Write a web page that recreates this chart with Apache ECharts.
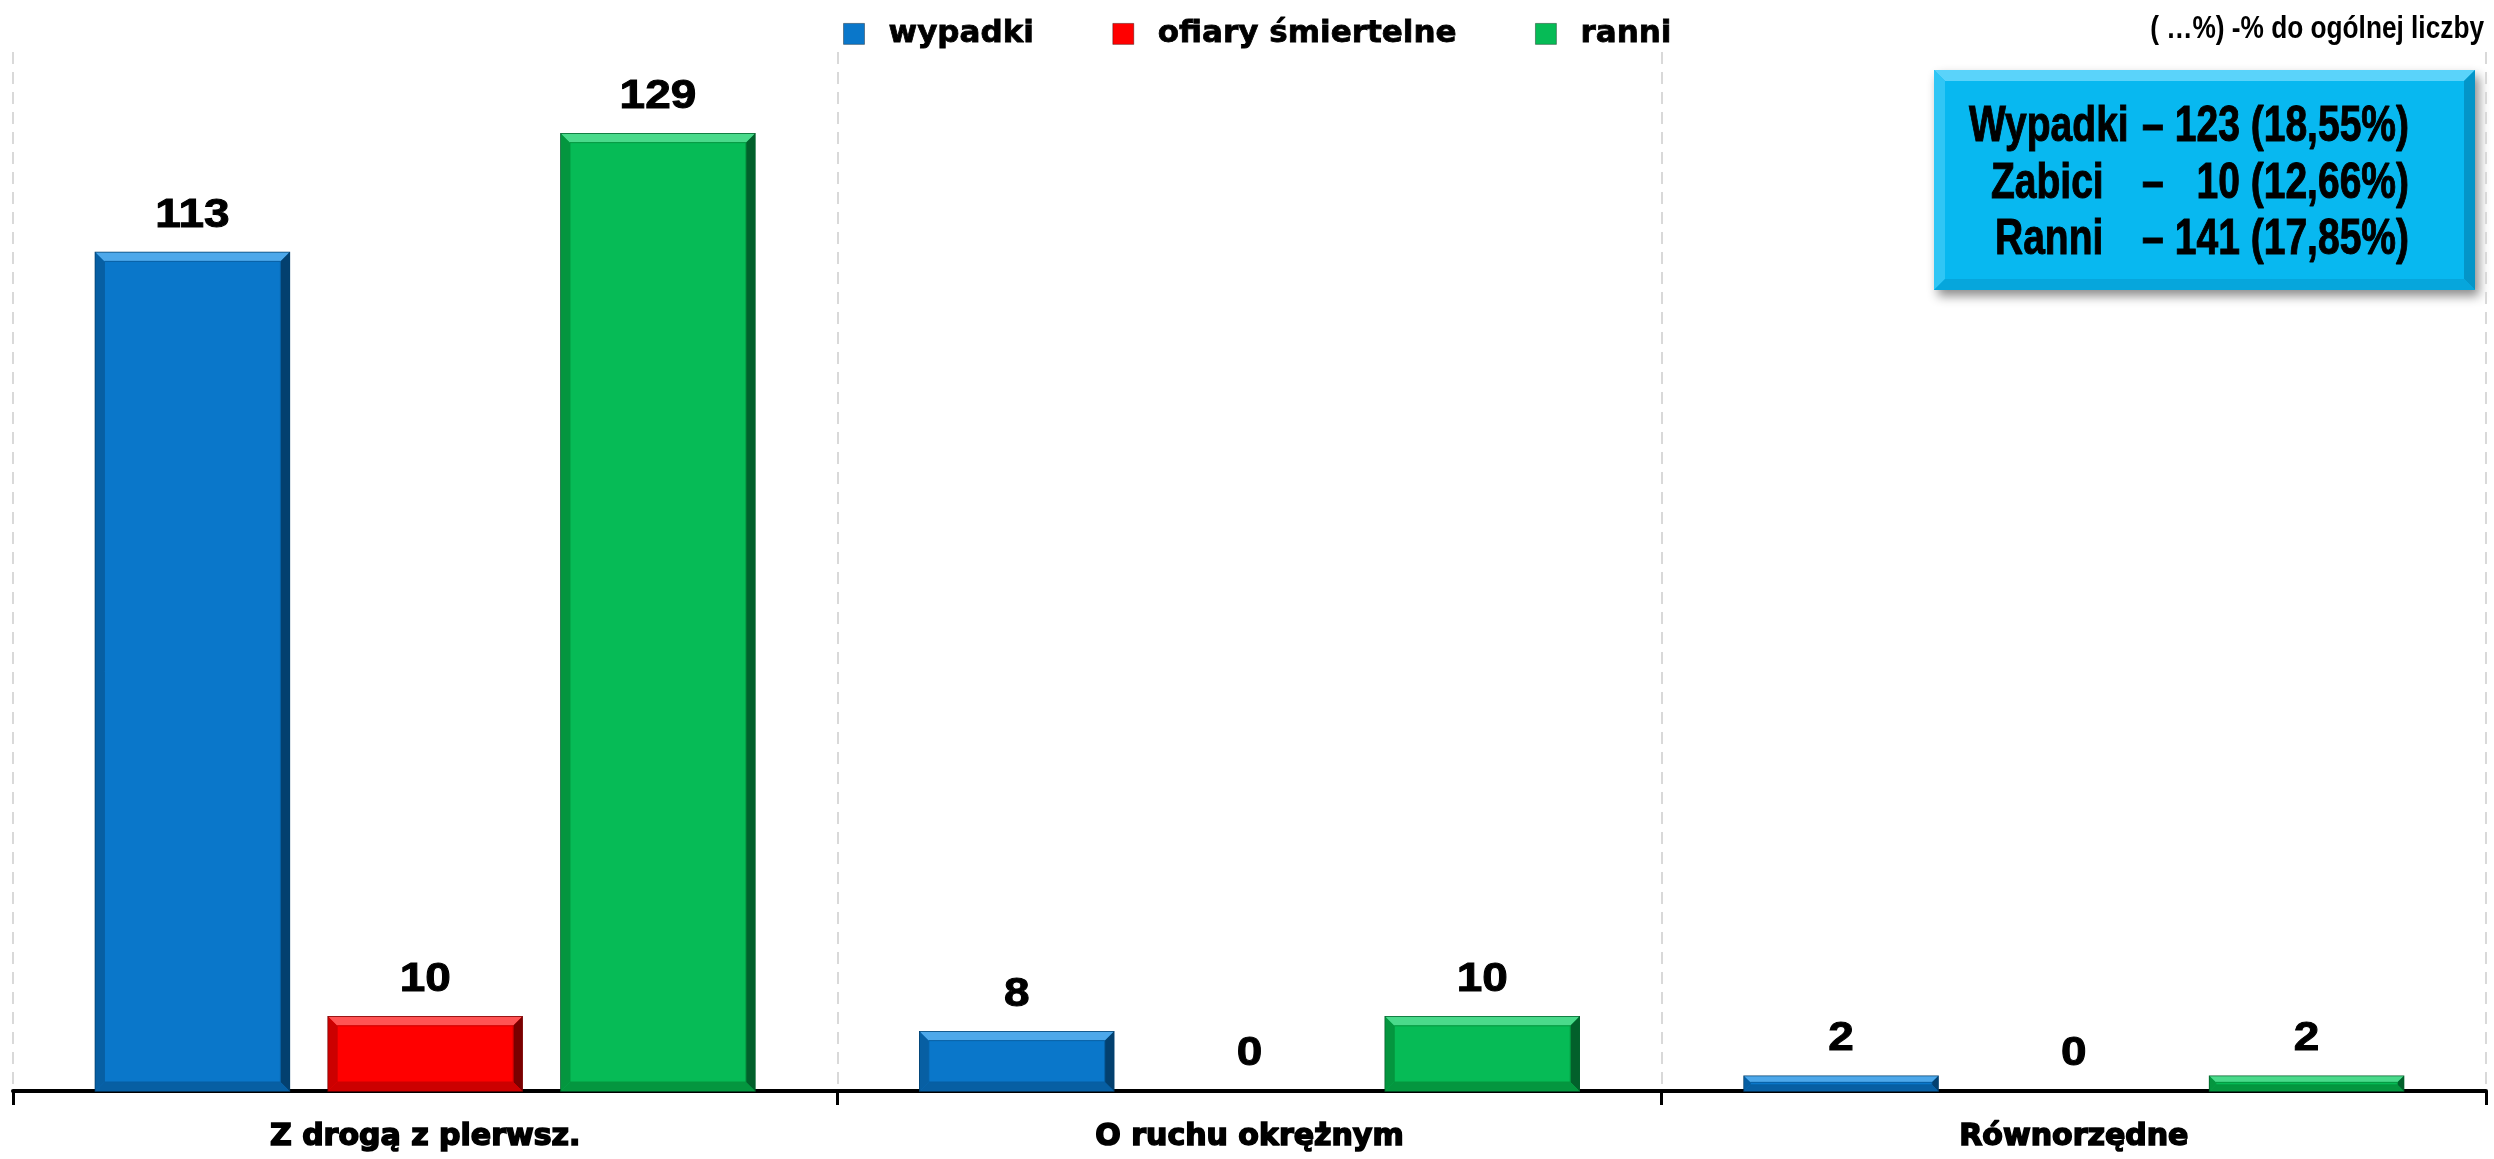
<!DOCTYPE html>
<html>
<head>
<meta charset="utf-8">
<script src="https://cdn.jsdelivr.net/npm/echarts@6/dist/echarts.min.js"></script>
<style>
html,body{margin:0;padding:0;background:#fff;}
#chart{width:2494px;height:1159px;}
</style>
</head>
<body>
<div id="chart"></div>
<script>
// ---- data ----
const categories = ['Z drogą z pierwsz.', 'O ruchu okrężnym', 'Równorzędne'];
const seriesNames = ['wypadki', 'ofiary śmiertelne', 'ranni'];
const wypadki = [113, 8, 2];
const ofiary = [10, 0, 0];
const ranni = [129, 10, 2];
const noteText = '( …%) -% do ogólnej liczby';
const summaryLabels = ['Wypadki', 'Zabici', 'Ranni'];
const summaryValues = ['123 (18,55%)', '10 (12,66%)', '141 (17,85%)'];

// ---- styles ----
const palette = [
  {base:'#0A77CA', light:'#4DA8EA', dark:'#03406F', mid:'#075FA3'},
  {base:'#FF0000', light:'#FF5454', dark:'#7A0000', mid:'#CC0000'},
  {base:'#06BB56', light:'#4ADA8B', dark:'#02602B', mid:'#04963F'}
];
const seriesData = [wypadki, ofiary, ranni];
const FONT = '"Liberation Sans", Arial, sans-serif';
const WIDE = '"DejaVu Sans", sans-serif';

function makeRender(s) {
  return function (params, api) {
    const idx = api.value(0), val = api.value(1);
    const base = api.coord([idx, 0]);
    const top = api.coord([idx, val]);
    const cw = api.size([1, 0])[0];
    const w = cw * 0.8 / 3.4, gap = 0.2 * w;
    const x0 = base[0] - cw * 0.4 + s * (w + gap);
    const y0 = base[1], y1 = top[1];
    const h = y0 - y1;
    const c = palette[s];
    const children = [];
    if (h > 0) {
      const b = Math.min(9, h / 2.4);
      const x1 = x0 + w;
      children.push({type:'rect', shape:{x:x0, y:y1, width:w, height:h}, style:{fill:c.base, stroke:c.dark, lineWidth:1.5}});
      children.push({type:'polygon', shape:{points:[[x0,y1],[x1,y1],[x1-b,y1+b],[x0+b,y1+b]]}, style:{fill:c.light}});
      children.push({type:'polygon', shape:{points:[[x0,y1],[x0+b,y1+b],[x0+b,y0-b],[x0,y0]]}, style:{fill:c.mid}});
      children.push({type:'polygon', shape:{points:[[x1,y1],[x1,y0],[x1-b,y0-b],[x1-b,y1+b]]}, style:{fill:c.dark}});
      children.push({type:'polygon', shape:{points:[[x0,y0],[x0+b,y0-b],[x1-b,y0-b],[x1,y0]]}, style:{fill:c.mid}});
      children.push({type:'rect', shape:{x:x0+b, y:y1+b, width:w-2*b, height:Math.max(0,h-2*b)}, style:{fill:c.base, stroke:c.mid, lineWidth:1}});
    }
    children.push({type:'text', x:x0 + w/2, y:y1 - 37, scaleX:1.12,
      style:{text:String(val), x:0, y:0, textAlign:'center', textVerticalAlign:'middle', align:'center', verticalAlign:'middle',
             font:'bold 41px ' + FONT, fill:'#000', stroke:'#000', lineWidth:1}});
    return {type:'group', children};
  };
}

const series = seriesNames.map((name, s) => ({
  name,
  type:'custom',
  renderItem: makeRender(s),
  itemStyle:{color:palette[s].base},
  encode:{x:0, y:1},
  data: seriesData[s].map((v, i) => [i, v]),
  z: 3
}));

const chart = echarts.init(document.getElementById('chart'), null, {renderer:'canvas'});

const boxX = 1934, boxY = 70, boxW = 541, boxH = 220, bb = 11;
const lineY = [127, 184, 240];
const boxChildren = [
  {type:'rect', shape:{x:boxX, y:boxY, width:boxW, height:boxH}, style:{fill:'#08B8F0', shadowBlur:10, shadowOffsetX:4, shadowOffsetY:6, shadowColor:'rgba(0,0,0,0.45)'}},
  {type:'polygon', shape:{points:[[boxX,boxY],[boxX+boxW,boxY],[boxX+boxW-bb,boxY+bb],[boxX+bb,boxY+bb]]}, style:{fill:'#5AD3FA'}},
  {type:'polygon', shape:{points:[[boxX,boxY],[boxX+bb,boxY+bb],[boxX+bb,boxY+boxH-bb],[boxX,boxY+boxH]]}, style:{fill:'#30C6F5'}},
  {type:'polygon', shape:{points:[[boxX+boxW,boxY],[boxX+boxW,boxY+boxH],[boxX+boxW-bb,boxY+boxH-bb],[boxX+boxW-bb,boxY+bb]]}, style:{fill:'#0495C8'}},
  {type:'polygon', shape:{points:[[boxX,boxY+boxH],[boxX+bb,boxY+boxH-bb],[boxX+boxW-bb,boxY+boxH-bb],[boxX+boxW,boxY+boxH]]}, style:{fill:'#06A6DC'}},
  {type:'rect', shape:{x:boxX+bb, y:boxY+bb, width:boxW-2*bb, height:boxH-2*bb}, style:{fill:'#08B8F0'}}
];
const labelX = [1969, 1991, 1995];
function narrowText(text, x, y, align, size, sx, heavy) {
  return {type:'text', x:x, y:y, scaleX:sx,
    style:{text:text, x:0, y:0, textAlign:align, align:align, textVerticalAlign:'middle', verticalAlign:'middle',
           font:'bold ' + size + 'px ' + FONT, fill:'#000', stroke: heavy ? '#000' : null, lineWidth: heavy ? 1 : 0}};
}
summaryLabels.forEach((lab, i) => {
  boxChildren.push(narrowText(lab, labelX[i], lineY[i], 'left', 50, 0.78, true));
  boxChildren.push(narrowText('–', 2142, lineY[i], 'left', 50, 0.78, true));
  boxChildren.push(narrowText(summaryValues[i], 2409, lineY[i], 'right', 50, 0.78, true));
});
boxChildren.push(narrowText(noteText, 2484, 29, 'right', 32, 0.82, false));

chart.setOption({
  animation:false,
  backgroundColor:'#fff',
  grid:{left:13, right:8, top:52, bottom:68, containLabel:false},
  legend:{
    data: seriesNames,
    left: 838, top: 13,
    icon:'rect', itemWidth:21, itemHeight:21, itemGap:78,
    itemStyle:{borderColor:'rgba(0,0,0,0.35)', borderWidth:1},
    textStyle:{fontFamily:WIDE, fontWeight:'bold', fontSize:31, color:'#000', padding:[0,0,0,19], textBorderColor:'#000', textBorderWidth:0.8}
  },
  xAxis:{
    type:'category', data:categories, boundaryGap:true,
    axisLine:{show:true, lineStyle:{color:'#000', width:4}},
    axisTick:{show:true, length:14, lineStyle:{color:'#000', width:3}},
    splitLine:{show:true, lineStyle:{color:'#D9D9D9', width:2, type:[12,8]}},
    axisLabel:{fontFamily:WIDE, fontWeight:'bold', fontSize:30, color:'#000', margin:31, textBorderColor:'#000', textBorderWidth:1.6}
  },
  yAxis:{type:'value', min:0, max:140, show:false, splitLine:{show:false}},
  series,
  graphic:{elements:[{type:'group', children:boxChildren, z:10}]}
});
</script>
</body>
</html>
